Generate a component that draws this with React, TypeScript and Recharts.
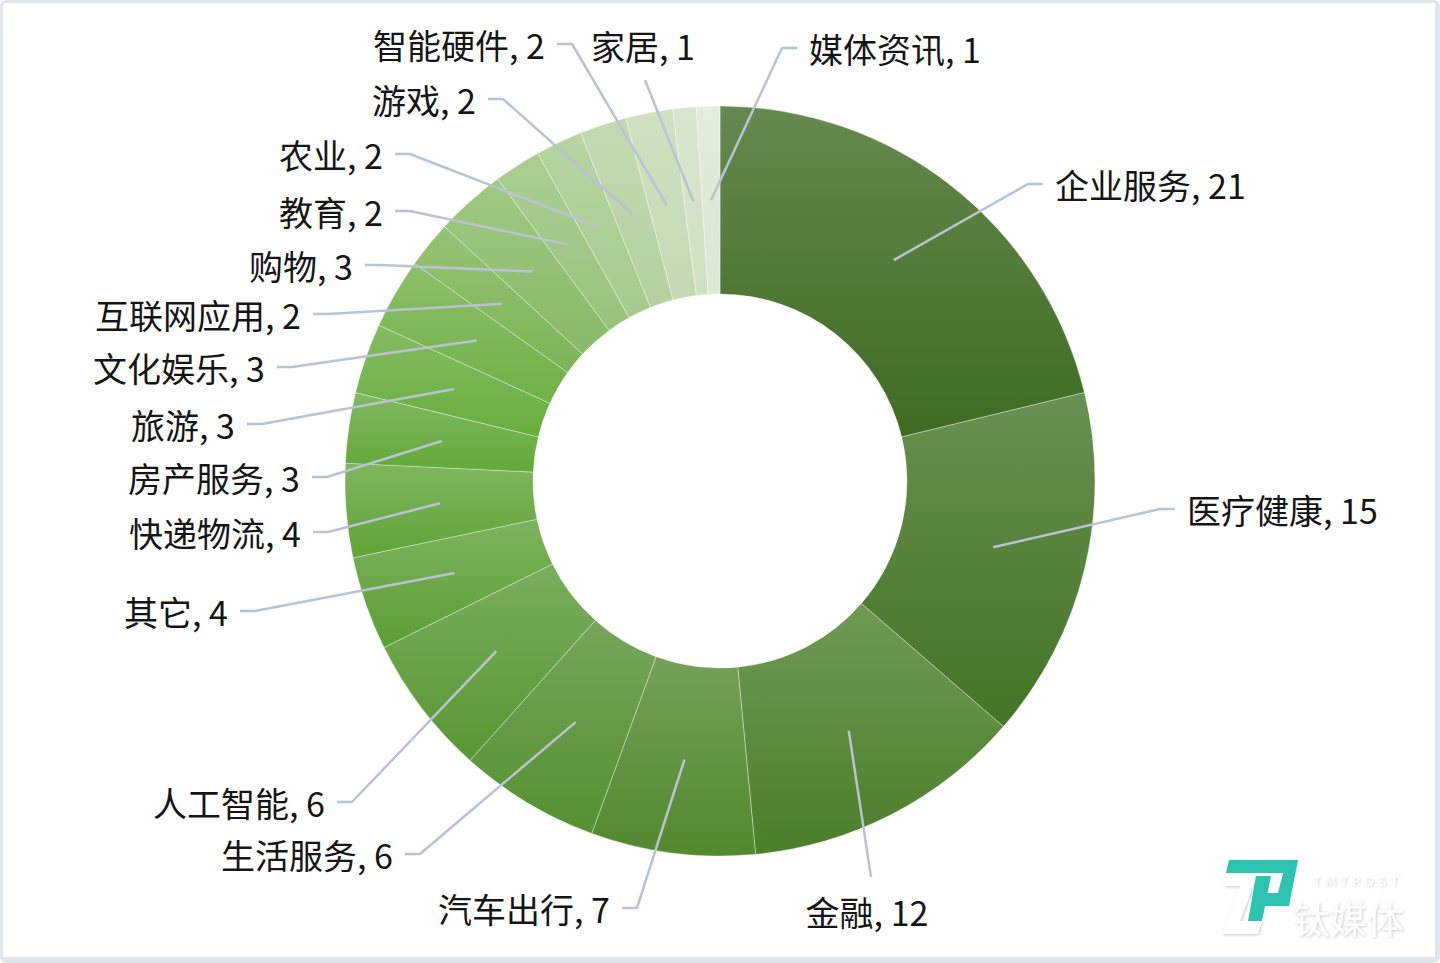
import React from 'react';
import { PieChart, Pie, Cell } from 'recharts';

// ---- data ----
const categories = [
  '企业服务', '医疗健康', '金融', '汽车出行', '生活服务', '人工智能', '其它', '快递物流',
  '房产服务', '旅游', '文化娱乐', '互联网应用', '购物', '教育', '农业', '游戏', '智能硬件',
  '家居', '媒体资讯',
];
const counts = [21, 15, 12, 7, 6, 6, 4, 4, 3, 3, 3, 2, 3, 2, 2, 2, 2, 1, 1];

// ---- styles ----
const sliceColors = [
  '#3f6b22', '#447426', '#4b7f2b', '#51892e', '#549031', '#589833', '#5c9f35', '#5fa436',
  '#62a838', '#67ad3c', '#70b046', '#7cb455', '#88ba66', '#97c27a', '#a6ca8c', '#b4d19f',
  '#c3d9b2', '#cfe0c3', '#dbe8d2',
];

// label layout (side + elbow offset from the pie centre)
type Side = 'left' | 'right' | 'top' | 'bottom';
const labelSides: Side[] = [
  'right', 'right', 'bottom', 'left', 'left', 'left', 'left', 'left', 'left', 'left',
  'left', 'left', 'left', 'left', 'left', 'left', 'left', 'top', 'right',
];
const labelElbows: [number, number][] = [
  [308, -297], [440, 28], [151, 396], [-83, 427], [-300, 373], [-368, 321], [-465, 130],
  [-392, 51], [-393, -4], [-458, -57], [-428, -114], [-392, -167], [-340, -216],
  [-310, -270], [-310, -327], [-217, -382], [-148, -437], [-75, -401], [62, -433],
];

const data = categories.map((name, i) => ({ name, value: counts[i] }));

const FONT = "'Noto Sans CJK SC', 'Microsoft YaHei', sans-serif";
const LINE = '#b9c3d1';

function mix(hex: string, target: string, t: number) {
  const p = (h: string) => [1, 3, 5].map((k) => parseInt(h.slice(k, k + 2), 16));
  const a = p(hex);
  const b = p(target);
  const c = a.map((v, i) => Math.round(v + (b[i] - v) * t));
  return '#' + c.map((v) => v.toString(16).padStart(2, '0')).join('');
}

const renderLabel = (props: any) => {
  const { cx, cy, midAngle, innerRadius, outerRadius, index } = props;
  const RAD = Math.PI / 180;
  const r = (innerRadius + outerRadius) / 2;
  const sx = cx + r * Math.cos(-midAngle * RAD);
  const sy = cy + r * Math.sin(-midAngle * RAD);
  const [dx, dy] = labelElbows[index];
  const ex = cx + dx;
  const ey = cy + dy;
  const side = labelSides[index];
  const text = `${categories[index]}, ${counts[index]}`;
  let points = '';
  let tx = 0;
  let ty = 0;
  let anchor: 'start' | 'end' | 'middle' = 'start';
  if (side === 'left') {
    points = `${sx},${sy} ${ex},${ey} ${ex - 15},${ey}`;
    tx = ex - 27;
    ty = ey;
    anchor = 'end';
  } else if (side === 'right') {
    points = `${sx},${sy} ${ex},${ey} ${ex + 15},${ey}`;
    tx = ex + 27;
    ty = ey;
    anchor = 'start';
  } else if (side === 'top') {
    points = `${sx},${sy} ${ex},${ey}`;
    tx = ex - 2;
    ty = ey - 35;
    anchor = 'middle';
  } else {
    points = `${sx},${sy} ${ex},${ey}`;
    tx = ex - 4;
    ty = ey + 34;
    anchor = 'middle';
  }
  return (
    <g key={`lab-${index}`}>
      <polyline points={points} fill="none" stroke={LINE} strokeWidth={2.5} strokeLinejoin="round" />
      <text
        x={tx}
        y={ty}
        textAnchor={anchor}
        dominantBaseline="central"
        fontFamily={FONT}
        fontSize={34}
        fill="#151515"
      >
        {text}
      </text>
    </g>
  );
};

function Watermark() {
  return (
    <svg
      width={1440}
      height={963}
      style={{ position: 'absolute', left: 0, top: 0, pointerEvents: 'none' }}
    >
      <defs>
        <filter id="wmShadow" x="-20%" y="-20%" width="140%" height="140%">
          <feDropShadow dx="1" dy="1" stdDeviation="1.5" floodColor="#9aa0a6" floodOpacity="0.55" />
        </filter>
      </defs>
      <g filter="url(#wmShadow)">
        <polygon points="1226,874 1258,874 1240,921 1262,921 1258,934 1222,934 1240,886 1224,886" fill="#ffffff" />
      </g>
      <polygon points="1229,860 1298,860 1289,906 1262,906 1265,893 1278,893 1283,873 1226,873" fill="#2cc4b0" />
      <polygon points="1256,876 1271,876 1262,921 1248,921" fill="#2cc4b0" />
      <g filter="url(#wmShadow)">
        <text x={1313} y={886} fontFamily="'DejaVu Sans', sans-serif" fontSize={13} letterSpacing={4} fill="#ffffff">
          TMTPOST
        </text>
        <text x={1293} y={934} fontFamily={FONT} fontSize={37} fill="#ffffff">
          钛媒体
        </text>
      </g>
    </svg>
  );
}

export default function App() {
  return (
    <div
      style={{
        position: 'absolute',
        left: 0,
        top: 0,
        width: 1440,
        height: 963,
        background: '#ffffff',
        overflow: 'hidden',
      }}
    >
      <PieChart width={1440} height={963} margin={{ top: 0, right: 0, bottom: 0, left: 0 }}>
        <defs>
          {sliceColors.map((c, i) => (
            <linearGradient key={i} id={`grad-${i}`} x1="0" y1="0" x2="0" y2="1">
              <stop offset="0%" stopColor={mix(c, '#ffffff', 0.2)} />
              <stop offset="100%" stopColor={c} />
            </linearGradient>
          ))}
        </defs>
        <Pie
          data={data}
          dataKey="value"
          nameKey="name"
          cx={720}
          cy={481}
          innerRadius={187}
          outerRadius={375}
          startAngle={90}
          endAngle={-270}
          paddingAngle={0}
          stroke="rgba(255,255,255,0.35)"
          strokeWidth={1}
          isAnimationActive={false}
          label={renderLabel}
          labelLine={false}
        >
          {data.map((d, i) => (
            <Cell key={d.name} fill={`url(#grad-${i})`} />
          ))}
        </Pie>
      </PieChart>
      <Watermark />
      <div
        style={{
          position: 'absolute',
          left: 0,
          top: 0,
          width: 1440,
          height: 963,
          boxSizing: 'border-box',
          borderStyle: 'solid',
          borderColor: '#e1e5ec',
          borderWidth: '3px 5px 6px 3px',
          borderRadius: 6,
          pointerEvents: 'none',
        }}
      />
    </div>
  );
}
